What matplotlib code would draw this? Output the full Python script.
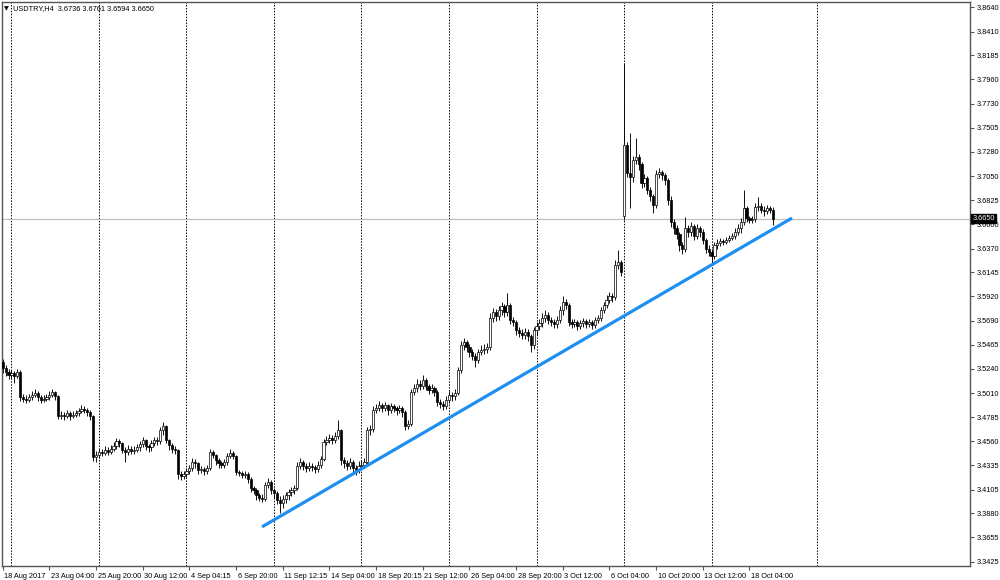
import numpy as np
import matplotlib.pyplot as plt
from matplotlib.transforms import ScaledTranslation

# USDTRY H4 candles, bar index 0..264
closes = [
    3.525, 3.521, 3.518, 3.520, 3.517, 3.521, 3.497, 3.496, 3.495, 3.497,
    3.499, 3.501, 3.497, 3.495, 3.496, 3.497, 3.499, 3.502, 3.498, 3.480,
    3.481, 3.480, 3.482, 3.480, 3.481, 3.482, 3.484, 3.486, 3.485, 3.483,
    3.480, 3.441, 3.443, 3.446, 3.445, 3.448, 3.446, 3.449, 3.451, 3.456,
    3.454, 3.448, 3.446, 3.449, 3.447, 3.448, 3.450, 3.453, 3.457, 3.451,
    3.450, 3.454, 3.457, 3.456, 3.466, 3.470, 3.457, 3.452, 3.449, 3.448,
    3.425, 3.423, 3.425, 3.428, 3.431, 3.436, 3.435, 3.429, 3.430, 3.428,
    3.431, 3.446, 3.443, 3.438, 3.435, 3.434, 3.436, 3.442, 3.445, 3.442,
    3.427, 3.426, 3.424, 3.425, 3.420, 3.412, 3.410, 3.405, 3.403, 3.402,
    3.415, 3.418, 3.410, 3.407, 3.401, 3.398, 3.402, 3.405, 3.408, 3.410,
    3.412, 3.433, 3.436, 3.433, 3.431, 3.433, 3.432, 3.430, 3.434, 3.439,
    3.455, 3.457, 3.459, 3.457, 3.461, 3.466, 3.438, 3.435, 3.433, 3.436,
    3.431, 3.429, 3.433, 3.434, 3.436, 3.466, 3.467, 3.485, 3.487, 3.490,
    3.487, 3.490, 3.485, 3.489, 3.487, 3.485, 3.487, 3.483, 3.470, 3.472,
    3.502, 3.506, 3.510, 3.508, 3.513, 3.508, 3.504, 3.506, 3.502, 3.493,
    3.491, 3.489, 3.495, 3.499, 3.498, 3.501, 3.523, 3.546, 3.549, 3.544,
    3.540, 3.536, 3.532, 3.540, 3.542, 3.543, 3.544, 3.572, 3.577, 3.574,
    3.579, 3.583, 3.577, 3.584, 3.570, 3.568, 3.560, 3.558, 3.556, 3.559,
    3.555, 3.546, 3.560, 3.564, 3.567, 3.572, 3.575, 3.570, 3.568, 3.566,
    3.570, 3.579, 3.587, 3.584, 3.568, 3.566, 3.568, 3.564, 3.567, 3.569,
    3.566, 3.568, 3.565, 3.570, 3.572, 3.579, 3.584, 3.589, 3.592, 3.591,
    3.622, 3.624, 3.615, 3.734, 3.708, 3.704, 3.720, 3.723, 3.716, 3.699,
    3.703, 3.692, 3.686, 3.678, 3.707, 3.709, 3.706, 3.701, 3.683, 3.662,
    3.656, 3.651, 3.640, 3.637, 3.656, 3.653, 3.658, 3.649, 3.656, 3.653,
    3.645, 3.637, 3.634, 3.630, 3.640, 3.642, 3.644, 3.643, 3.645, 3.647,
    3.649, 3.653, 3.656, 3.662, 3.675, 3.666, 3.664, 3.665, 3.676, 3.677,
    3.673, 3.672, 3.675, 3.6736, 3.6650,
]
highs = [
    3.533, 3.528, 3.524, 3.523, 3.522, 3.524, 3.523, 3.500, 3.499, 3.500,
    3.503, 3.505, 3.503, 3.499, 3.499, 3.500, 3.503, 3.505, 3.503, 3.499,
    3.484, 3.483, 3.485, 3.484, 3.484, 3.485, 3.487, 3.490, 3.489, 3.487,
    3.485, 3.481, 3.447, 3.449, 3.449, 3.451, 3.450, 3.452, 3.455, 3.459,
    3.458, 3.455, 3.450, 3.452, 3.451, 3.451, 3.453, 3.456, 3.460, 3.458,
    3.453, 3.457, 3.460, 3.460, 3.469, 3.474, 3.471, 3.458, 3.454, 3.451,
    3.449, 3.428, 3.428, 3.431, 3.434, 3.440, 3.439, 3.436, 3.433, 3.432,
    3.434, 3.449, 3.448, 3.444, 3.440, 3.437, 3.439, 3.445, 3.449, 3.447,
    3.443, 3.429, 3.428, 3.428, 3.427, 3.422, 3.414, 3.412, 3.407, 3.406,
    3.418, 3.421, 3.419, 3.412, 3.409, 3.404, 3.405, 3.408, 3.411, 3.413,
    3.415, 3.436, 3.440, 3.438, 3.435, 3.436, 3.435, 3.434, 3.437, 3.442,
    3.458, 3.461, 3.463, 3.462, 3.465, 3.476, 3.467, 3.441, 3.438, 3.440,
    3.438, 3.434, 3.437, 3.438, 3.440, 3.469, 3.471, 3.489, 3.491, 3.494,
    3.492, 3.493, 3.491, 3.492, 3.491, 3.489, 3.490, 3.489, 3.485, 3.476,
    3.505, 3.510, 3.514, 3.513, 3.518, 3.515, 3.510, 3.510, 3.508, 3.504,
    3.496, 3.494, 3.498, 3.503, 3.502, 3.505, 3.526, 3.550, 3.553, 3.551,
    3.547, 3.543, 3.539, 3.543, 3.546, 3.547, 3.548, 3.576, 3.581, 3.580,
    3.583, 3.587, 3.585, 3.595, 3.586, 3.573, 3.570, 3.563, 3.561, 3.562,
    3.561, 3.557, 3.563, 3.568, 3.571, 3.576, 3.579, 3.577, 3.573, 3.571,
    3.574, 3.583, 3.592, 3.590, 3.586, 3.571, 3.571, 3.570, 3.570, 3.572,
    3.571, 3.571, 3.570, 3.573, 3.575, 3.582, 3.587, 3.593, 3.596, 3.595,
    3.626, 3.636, 3.626, 3.811, 3.737, 3.746, 3.724, 3.741, 3.726, 3.718,
    3.707, 3.705, 3.695, 3.688, 3.711, 3.713, 3.711, 3.708, 3.703, 3.686,
    3.665, 3.659, 3.653, 3.643, 3.667, 3.659, 3.662, 3.660, 3.660, 3.658,
    3.655, 3.647, 3.640, 3.637, 3.643, 3.646, 3.647, 3.646, 3.648, 3.650,
    3.652, 3.656, 3.660, 3.666, 3.692, 3.677, 3.668, 3.668, 3.680, 3.685,
    3.680, 3.677, 3.678, 3.677, 3.6761,
]
lows = [
    3.520, 3.517, 3.514, 3.515, 3.511, 3.515, 3.494, 3.493, 3.492, 3.493,
    3.495, 3.497, 3.494, 3.492, 3.493, 3.494, 3.495, 3.497, 3.495, 3.477,
    3.477, 3.476, 3.478, 3.476, 3.478, 3.479, 3.480, 3.482, 3.482, 3.480,
    3.476, 3.437, 3.436, 3.440, 3.442, 3.443, 3.443, 3.444, 3.447, 3.449,
    3.450, 3.445, 3.436, 3.443, 3.444, 3.444, 3.446, 3.447, 3.450, 3.448,
    3.446, 3.447, 3.451, 3.452, 3.453, 3.462, 3.454, 3.448, 3.445, 3.444,
    3.420, 3.419, 3.420, 3.422, 3.425, 3.428, 3.431, 3.425, 3.426, 3.424,
    3.425, 3.429, 3.440, 3.434, 3.431, 3.431, 3.431, 3.434, 3.440, 3.439,
    3.424, 3.423, 3.421, 3.421, 3.417, 3.408, 3.406, 3.401, 3.400, 3.399,
    3.400, 3.412, 3.406, 3.403, 3.397, 3.388, 3.393, 3.398, 3.401, 3.404,
    3.406, 3.410, 3.430, 3.429, 3.427, 3.428, 3.428, 3.426, 3.427, 3.431,
    3.437, 3.452, 3.454, 3.453, 3.454, 3.458, 3.434, 3.431, 3.429, 3.430,
    3.427, 3.424, 3.426, 3.430, 3.431, 3.434, 3.462, 3.465, 3.482, 3.484,
    3.483, 3.484, 3.481, 3.482, 3.483, 3.481, 3.482, 3.479, 3.466, 3.467,
    3.470, 3.499, 3.502, 3.504, 3.505, 3.504, 3.500, 3.501, 3.498, 3.489,
    3.487, 3.485, 3.486, 3.492, 3.494, 3.495, 3.499, 3.520, 3.542, 3.540,
    3.535, 3.532, 3.526, 3.529, 3.537, 3.538, 3.539, 3.542, 3.568, 3.569,
    3.570, 3.575, 3.573, 3.574, 3.566, 3.564, 3.556, 3.554, 3.552, 3.552,
    3.550, 3.540, 3.543, 3.556, 3.560, 3.563, 3.568, 3.566, 3.564, 3.562,
    3.562, 3.567, 3.575, 3.580, 3.564, 3.562, 3.563, 3.560, 3.561, 3.563,
    3.562, 3.563, 3.561, 3.562, 3.567, 3.569, 3.576, 3.581, 3.586, 3.587,
    3.589, 3.618, 3.611, 3.664, 3.704, 3.675, 3.700, 3.716, 3.711, 3.694,
    3.695, 3.688, 3.682, 3.670, 3.675, 3.703, 3.701, 3.697, 3.678, 3.657,
    3.651, 3.646, 3.635, 3.632, 3.634, 3.648, 3.649, 3.645, 3.646, 3.648,
    3.641, 3.633, 3.630, 3.624, 3.627, 3.637, 3.639, 3.640, 3.641, 3.643,
    3.645, 3.646, 3.650, 3.652, 3.659, 3.662, 3.661, 3.661, 3.662, 3.672,
    3.670, 3.668, 3.669, 3.670, 3.6594,
]
first_open = 3.530
gap_bar, gap_open = 213, 3.668       # Monday 9 Oct open after the weekend gap

# time axis labels every 16 bars
xlabels = ["18 Aug 2017", "23 Aug 04:00", "25 Aug 20:00", "30 Aug 12:00",
           "4 Sep 04:15", "6 Sep 20:00", "11 Sep 12:15", "14 Sep 04:00",
           "18 Sep 20:15", "21 Sep 12:00", "26 Sep 04:00", "28 Sep 20:00",
           "3 Oct 12:00", "6 Oct 04:00", "10 Oct 20:00", "13 Oct 12:00",
           "18 Oct 04:00"]
label_step = 16
week_starts = [3, 33, 63, 93, 123, 153, 183, 213, 243, 279]

yticks = [3.8640, 3.8410, 3.8185, 3.7960, 3.7730, 3.7505, 3.7280, 3.7050,
          3.6825, 3.6600, 3.6370, 3.6145, 3.5920, 3.5690, 3.5465, 3.5240,
          3.5010, 3.4785, 3.4560, 3.4335, 3.4105, 3.3880, 3.3655, 3.3425]

last_price = 3.6650
trend_x = [88.9, 270.6]
trend_y = [3.3754, 3.6657]
header = "USDTRY,H4  3.6736 3.6761 3.6594 3.6650"

closes = np.array(closes)
highs = np.array(highs)
lows = np.array(lows)
opens = np.r_[first_open, closes[:-1]]
opens[gap_bar] = gap_open
idx = np.arange(len(closes))

FONT = "Liberation Sans"
fig = plt.figure(figsize=(10, 5.8), dpi=100)
ax = fig.add_axes([0.002, 0.0241, 0.968, 0.9724])

for x in week_starts:
    ax.axvline(x, color="black", lw=0.7, ls=(0, (1.5, 1.5)), zorder=1)

ax.axhline(last_price, color="#c0c0c0", lw=0.9, zorder=1)

# candles: white body = up bar, black body = down bar
ax.vlines(idx, lows, highs, color="black", lw=0.65, zorder=2)
bull = closes >= opens
body_lo = np.minimum(opens, closes)
body_h = np.maximum(np.abs(closes - opens), 0.0008)
ax.bar(idx[bull], body_h[bull], bottom=body_lo[bull], width=0.75,
       color="white", edgecolor="black", linewidth=0.5, zorder=3)
ax.bar(idx[~bull], body_h[~bull], bottom=body_lo[~bull], width=0.75,
       color="black", edgecolor="black", linewidth=0.5, zorder=3)

ax.plot(trend_x, trend_y, color="#1e8ff0", lw=2.3, solid_capstyle="butt", zorder=4)

ax.set_xlim(-0.24, 331.6)
ax.set_ylim(3.3386, 3.8687)

ax.yaxis.tick_right()
ax.set_yticks(yticks)
ax.set_yticklabels([f"{v:.4f}" for v in yticks], fontsize=5.3, family=FONT)
ax.set_xticks(idx[::label_step][:len(xlabels)])
ax.set_xticklabels(xlabels, fontsize=5.3, family=FONT, ha="left")
ax.tick_params(axis="both", length=3, width=0.8, color="#555555", pad=2)
off = ScaledTranslation(1.5 / 100, 0, fig.dpi_scale_trans)
for lab in ax.get_xticklabels():
    lab.set_transform(lab.get_transform() + off)

for s in ax.spines.values():
    s.set_color("#555555")
    s.set_linewidth(1.0)

ax.text(1.0025, last_price, "3.6650", transform=ax.get_yaxis_transform(),
        fontsize=5.3, family=FONT, color="white", va="center", ha="left",
        bbox=dict(boxstyle="square,pad=0.15", fc="black", ec="black"), zorder=6)

fig.text(0.004, 0.985, "\u25bc", fontsize=4.5, va="center", ha="left")
fig.text(0.013, 0.985, header, fontsize=5.3, family=FONT, va="center", ha="left")

fig.savefig("out.png", dpi=100, facecolor="white")
